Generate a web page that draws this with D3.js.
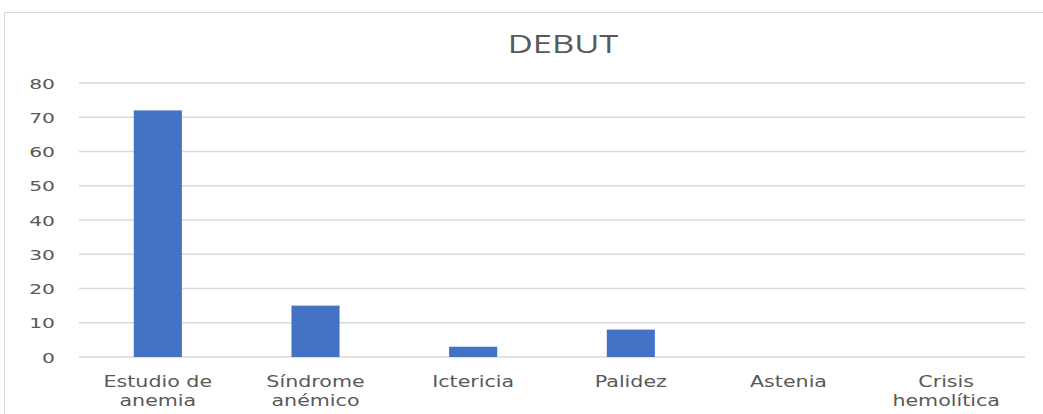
<!DOCTYPE html>
<html>
<head>
<meta charset="utf-8">
<script src="https://cdn.jsdelivr.net/npm/d3@7"></script>
<style>
  html, body { margin: 0; padding: 0; background: #fff; }
  svg { display: block; }
</style>
</head>
<body>
<svg id="chart" width="1043" height="414"></svg>
<script>
// Debut presentation counts
const categories = [["Estudio de", "anemia"], ["Síndrome", "anémico"], ["Ictericia"], ["Palidez"], ["Astenia"], ["Crisis", "hemolítica"]];
const values = [72, 15, 3, 8, 0, 0];
const yTicks = [0, 10, 20, 30, 40, 50, 60, 70, 80];

const svg = d3.select("#chart");
const W = 1043, H = 414;
const margin = { left: 79, right: 18, top: 83, bottom: 57 };
const textColor = "#595959";
const font = "'DejaVu Sans', Verdana, sans-serif";
const stretch = 1.33; // wide horizontal text proportions

// chart area outline
svg.append("rect")
  .attr("x", 4.5).attr("y", 12.5)
  .attr("width", W + 10).attr("height", H + 10)
  .attr("fill", "#fff").attr("stroke", "#d9d9d9").attr("stroke-width", 1);

const x = d3.scaleBand()
  .domain(d3.range(categories.length))
  .range([margin.left, W - margin.right])
  .padding(0);
const y = d3.scaleLinear().domain([0, 80]).range([H - margin.bottom, margin.top]);

// horizontal gridlines
svg.append("g")
  .selectAll("line")
  .data(yTicks)
  .join("line")
  .attr("x1", margin.left).attr("x2", W - margin.right)
  .attr("y1", d => y(d)).attr("y2", d => y(d))
  .attr("stroke", "#d9d9d9").attr("stroke-width", 1.5);

// y axis labels
const yAxis = d3.axisLeft(y).tickValues(yTicks).tickSize(0).tickPadding(0);
const yg = svg.append("g").attr("transform", `translate(${margin.left - 24},0)`).call(yAxis);
yg.select(".domain").remove();
yg.selectAll(".tick text")
  .attr("fill", textColor).attr("font-family", font).attr("font-size", 14.5)
  .attr("x", 0).attr("dy", "0.35em")
  .attr("transform", `scale(${stretch + 0.07},1)`);

// bars
const barW = x.bandwidth() * 0.305;
svg.append("g")
  .selectAll("rect")
  .data(values)
  .join("rect")
  .attr("x", (d, i) => x(i) + (x.bandwidth() - barW) / 2)
  .attr("y", d => y(d))
  .attr("width", barW)
  .attr("height", d => y(0) - y(d))
  .attr("fill", "#4472c4");

// category labels
const xl = svg.append("g");
categories.forEach((lines, i) => {
  const cx = x(i) + x.bandwidth() / 2;
  lines.forEach((s, k) => {
    xl.append("text")
      .attr("transform", `translate(${cx},${387 + k * 19}) scale(${stretch},1)`)
      .attr("text-anchor", "middle")
      .attr("fill", textColor)
      .attr("font-family", font)
      .attr("font-size", 15.5)
      .text(s);
  });
});

// title
svg.append("text")
  .attr("transform", `translate(563,53) scale(1.38,1)`)
  .attr("text-anchor", "middle")
  .attr("fill", textColor)
  .attr("font-family", "'Open Sans', 'Noto Sans', sans-serif")
  .attr("font-size", 25)
  .text("DEBUT");
</script>
</body>
</html>
